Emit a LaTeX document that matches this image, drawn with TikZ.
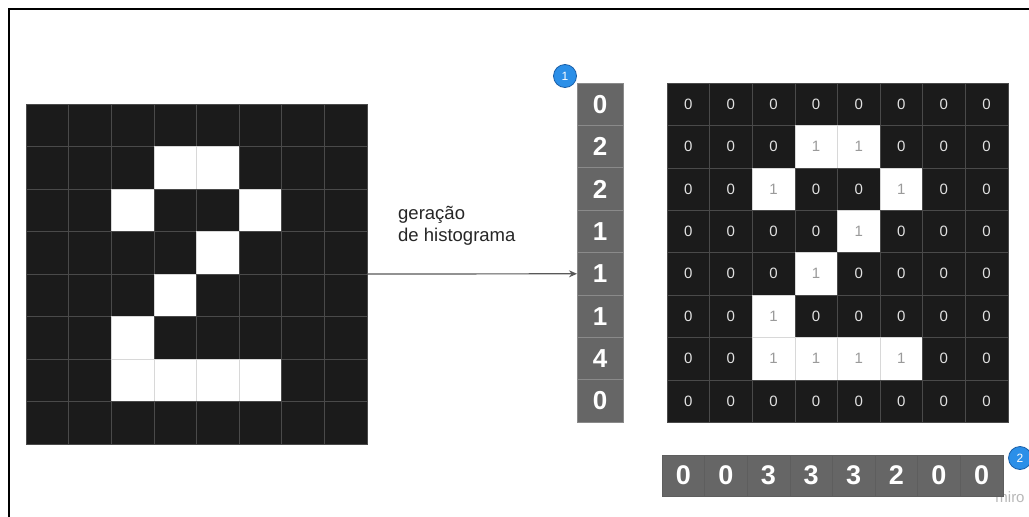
\documentclass[tikz,border=0pt]{standalone}
\usepackage{fontspec}
\setmainfont{Liberation Sans}
\usetikzlibrary{arrows.meta}
\definecolor{cellblack}{HTML}{1B1B1B}
\definecolor{gridline}{HTML}{4A4A4A}
\definecolor{whiteline}{HTML}{D8D8D8}
\definecolor{histfill}{HTML}{666666}
\definecolor{histline}{HTML}{8A8A8A}
\definecolor{badgefill}{HTML}{2B8FE8}
\definecolor{badgeline}{HTML}{1A5FA8}
\definecolor{numlight}{HTML}{E2E2E2}
\definecolor{numgray}{HTML}{9A9A9A}
\begin{document}
\begin{tikzpicture}[x=1pt,y=-1pt,
  cellbase/.style={rectangle,inner sep=0pt,outer sep=0pt,minimum width=42.6pt,minimum height=42.5pt,line width=0.6pt},
  lcell0/.style={cellbase,fill=cellblack,draw=gridline},
  lcell1/.style={cellbase,fill=white,draw=whiteline},
  rcell0/.style={cellbase,minimum height=42.4pt,fill=cellblack,draw=gridline,text=numlight,font=\fontsize{15}{15}\selectfont},
  rcell1/.style={cellbase,minimum height=42.4pt,fill=white,draw=whiteline,text=numgray,font=\fontsize{15}{15}\selectfont},
  hcell/.style={rectangle,inner sep=0pt,outer sep=0pt,minimum width=46pt,minimum height=42.4pt,fill=histfill,draw=histline,line width=0.8pt,text=white,font=\bfseries\fontsize{26}{26}\selectfont},
  bcell/.style={rectangle,inner sep=0pt,outer sep=0pt,minimum width=42.6pt,minimum height=41pt,fill=histfill,draw=histfill!92!black,line width=0.5pt,text=white,font=\bfseries\fontsize{27}{27}\selectfont},
  badge/.style={circle,inner sep=0pt,minimum size=23pt,fill=badgefill,draw=badgeline,line width=0.8pt,text=white,font=\fontsize{12}{12}\selectfont},
  link/.style={draw=black!65,line width=1.2pt,-{Stealth[length=8pt,width=7pt,fill=black!80]}},
  label/.style={align=left,inner sep=0pt,text=black!85,font=\fontsize{18.5}{21.7}\selectfont}]
\useasboundingbox (0,0) rectangle (1029,517);
\fill[white] (0,0) rectangle (1029,517);
% frame
\draw[line width=1.6pt] (9,517) -- (9,9) -- (1029,9);

% left grid
\node[inner sep=0pt,outer sep=0pt,minimum width=340.8pt,minimum height=340pt] (lgrid) at (196.4,274) {};
\foreach \row [count=\r from 0] in {{0,0,0,0,0,0,0,0},{0,0,0,1,1,0,0,0},{0,0,1,0,0,1,0,0},{0,0,0,0,1,0,0,0},{0,0,0,1,0,0,0,0},{0,0,1,0,0,0,0,0},{0,0,1,1,1,1,0,0},{0,0,0,0,0,0,0,0}}{
  \foreach \v [count=\c from 0] in \row {
    \node[lcell\v] (L-\r-\c) at ({26+21.3+42.6*\c},{104+21.25+42.5*\r}) {};
  }
}

% right grid
\foreach \row [count=\r from 0] in {{0,0,0,0,0,0,0,0},{0,0,0,1,1,0,0,0},{0,0,1,0,0,1,0,0},{0,0,0,0,1,0,0,0},{0,0,0,1,0,0,0,0},{0,0,1,0,0,0,0,0},{0,0,1,1,1,1,0,0},{0,0,0,0,0,0,0,0}}{
  \foreach \v [count=\c from 0] in \row {
    \node[rcell\v] (R-\r-\c) at ({667+21.3+42.6*\c},{83+21.2+42.4*\r}) {\v};
  }
}

% row histogram
\foreach \v [count=\r from 0] in {0,2,2,1,1,1,4,0}{
  \node[hcell] (H\r) at (600,{83+21.2+42.4*\r}) {\v};
}

% watermark
\node[text=black!28,font=\fontsize{15}{15}\selectfont,inner sep=0pt] (wm) at (1010,497) {miro};

% column histogram
\foreach \v [count=\c from 0] in {0,0,3,3,3,2,0,0}{
  \node[bcell] (B\c) at ({662+21.3+42.6*\c},475.5) {\v};
}

% badges
\node[badge] (b1) at (565,76) {1};
\node[badge] (b2) at (1020,458) {2};

% connector
\draw[link] (lgrid.east) -- (H4.west);
\node[label,anchor=north west] (lbl) at (398,206) {geração\\de histograma};
\end{tikzpicture}
\end{document}
